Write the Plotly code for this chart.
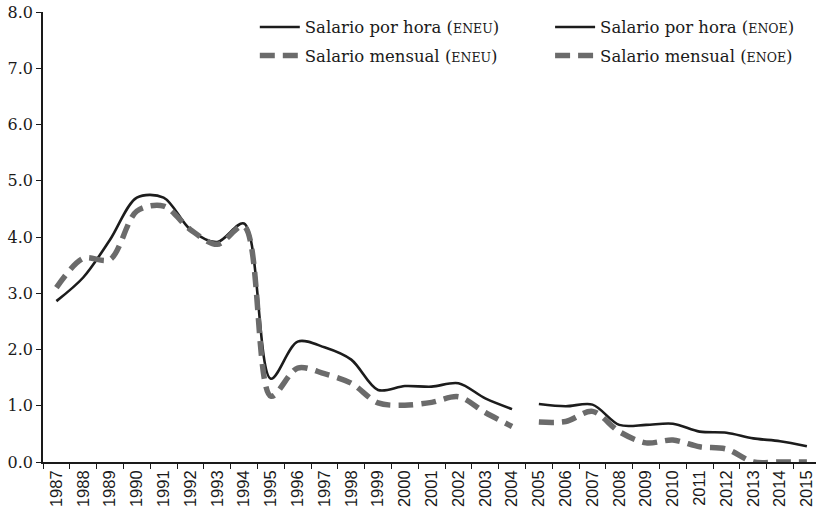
import plotly.graph_objects as go

years_eneu = [str(y) for y in range(1987, 2005)]
years_enoe = [str(y) for y in range(2005, 2016)]

hora_eneu = [2.86, 3.28, 3.95, 4.70, 4.70, 4.13, 3.91, 4.24, 1.48, 2.14,
             2.04, 1.82, 1.28, 1.35, 1.34, 1.40, 1.13, 0.94]
mensual_eneu = [3.10, 3.62, 3.60, 4.46, 4.55, 4.13, 3.87, 4.19, 1.17, 1.67,
                1.57, 1.40, 1.05, 1.01, 1.06, 1.16, 0.88, 0.63]
hora_enoe = [1.03, 0.99, 1.02, 0.66, 0.66, 0.68, 0.54, 0.52, 0.42, 0.37, 0.28]
mensual_enoe = [0.71, 0.72, 0.90, 0.54, 0.34, 0.39, 0.27, 0.23, 0.0, 0.0, 0.0]

all_years = years_eneu + years_enoe

sc = "<span style='font-size:12.5px'>{}</span>"
solid = dict(color="#1c1c1c", width=2.6, shape="spline", smoothing=0.9)
dashed = dict(color="#6b6b6b", width=5.5, dash="15px,8px", shape="spline", smoothing=0.9)

fig = go.Figure()
fig.add_trace(go.Scatter(x=years_eneu, y=hora_eneu, mode="lines", line=solid, legendgroup="a",
                         name="Salario por hora (" + sc.format("ENEU") + ")", legend="legend"))
fig.add_trace(go.Scatter(x=years_eneu, y=mensual_eneu, mode="lines", line=dashed, legendgroup="b",
                         name="Salario mensual (" + sc.format("ENEU") + ")", legend="legend"))
fig.add_trace(go.Scatter(x=years_enoe, y=hora_enoe, mode="lines", line=solid, legendgroup="c",
                         name="Salario por hora (" + sc.format("ENOE") + ")", legend="legend2"))
fig.add_trace(go.Scatter(x=years_enoe, y=mensual_enoe, mode="lines", line=dashed, legendgroup="d",
                         name="Salario mensual (" + sc.format("ENOE") + ")", legend="legend2"))

legend_style = dict(font=dict(family="DejaVu Serif", size=16.5, color="#1a1a1a"),
                    bgcolor="rgba(0,0,0,0)", tracegroupgap=4, itemwidth=40,
                    xanchor="left", yanchor="top")

fig.update_layout(
    width=816, height=517,
    margin=dict(l=43, r=0, t=12, b=55, autoexpand=False),
    paper_bgcolor="white", plot_bgcolor="white",
    legend=dict(x=0.274, y=1.005, **legend_style),
    legend2=dict(x=0.656, y=1.005, **legend_style),
    xaxis=dict(type="category", categoryorder="array", categoryarray=all_years,
               range=[-0.5, 28.34], tickson="boundaries", ticks="outside", ticklen=5,
               tickmode="linear", dtick=1,
               tickcolor="#1a1a1a", showline=True, linecolor="#1a1a1a", linewidth=1.5,
               showgrid=False, tickangle=-90,
               tickfont=dict(family="Liberation Sans", size=16.5, color="#1a1a1a")),
    yaxis=dict(range=[0, 8], dtick=1, tickformat=".1f", ticks="outside", ticklen=5,
               tickcolor="#1a1a1a", showline=True, linecolor="#1a1a1a", linewidth=1.5,
               showgrid=False, zeroline=False,
               tickfont=dict(family="DejaVu Serif", size=16, color="#1a1a1a")),
)

# drop the default body margin so the figure sits at the top-left corner of the page
fig.write_html("out.html", config={"displayModeBar": False},
               post_script="document.body.style.margin='0';document.body.style.overflow='hidden';")
